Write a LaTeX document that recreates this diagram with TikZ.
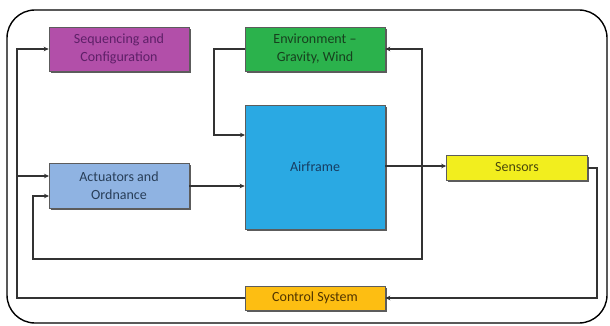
\documentclass[tikz,border=0pt]{standalone}
\usepackage{fontspec}
\setmainfont{Carlito}
\usetikzlibrary{arrows.meta,shadows}
\definecolor{seqc}{HTML}{B24FA9}
\definecolor{seqt}{HTML}{5E2068}
\definecolor{envc}{HTML}{2BB24C}
\definecolor{envt}{HTML}{17401E}
\definecolor{airc}{HTML}{2AA9E3}
\definecolor{airt}{HTML}{173D62}
\definecolor{actc}{HTML}{8FB3E2}
\definecolor{actt}{HTML}{283E58}
\definecolor{senc}{HTML}{F2EE1E}
\definecolor{sent}{HTML}{4A480C}
\definecolor{ctlc}{HTML}{FDBE12}
\definecolor{ctlt}{HTML}{503400}
\definecolor{linec}{HTML}{333333}
\tikzset{
  blk/.style={draw=linec!80, line width=0.6pt, inner sep=0pt, align=center,
    font=\fontsize{14}{18}\selectfont,
    drop shadow={shadow xshift=1.6pt, shadow yshift=-1.6pt, fill=black!75, opacity=0.85}},
  arr/.style={draw=linec, line width=1.4pt, -{Stealth[length=5pt,width=4.5pt]}},
}
\begin{document}
\begin{tikzpicture}[x=1pt,y=-1pt]
\useasboundingbox (0,0) rectangle (610,326);
\draw[line width=1.4pt, rounded corners=28pt] (7,10) rectangle (607,323);

\node[blk, fill=seqc, text=seqt, minimum width=140pt, minimum height=44pt] (seq) at (119,49) {Sequencing and\\Configuration};
\node[blk, fill=envc, text=envt, minimum width=140pt, minimum height=44pt] (env) at (315,49) {Environment --\\Gravity, Wind};
\node[blk, fill=airc, text=airt, minimum width=140pt, minimum height=124pt] (air) at (315,167) {Airframe};
\node[blk, fill=actc, text=actt, minimum width=140pt, minimum height=45pt] (act) at (119,185.5) {Actuators and\\Ordnance};
\node[blk, fill=senc, text=sent, minimum width=141pt, minimum height=25pt] (sen) at (517,167.5) {Sensors};
\node[blk, fill=ctlc, text=ctlt, minimum width=140pt, minimum height=24pt] (ctl) at (315,298) {Control System};

\coordinate (envl) at (214,49);
\coordinate (airin) at (245,135);
\coordinate (j) at (422,166);
\coordinate (fb) at (422,259);
\coordinate (actlo) at (49,196);
\coordinate (actup) at (49,176);
\coordinate (actr) at (189,186);
\coordinate (senr) at (597,168);
\coordinate (ctll) at (17,298);

% Environment -> Airframe
\draw[arr] (env.west) -- (envl) |- (airin);
% Airframe -> Sensors
\draw[arr] (air.east |- j) -- (sen.west |- j);
% feedback up to Environment
\draw[arr] (j) |- (env.east);
% feedback down to Actuators
\draw[arr] (j) -- (fb) -| ([xshift=-16pt]actlo) -- (actlo);
% Sensors -> Control System
\draw[arr] (sen.east |- senr) -- (senr) |- (ctl.east);
% Control System -> Sequencing, Actuators
\draw[arr] (ctl.west) -- (ctll) |- (seq.west);
\draw[arr] (ctll |- actup) -- (actup);
% Actuators -> Airframe
\draw[arr] (act.east |- actr) -- (air.west |- actr);
\end{tikzpicture}
\end{document}
